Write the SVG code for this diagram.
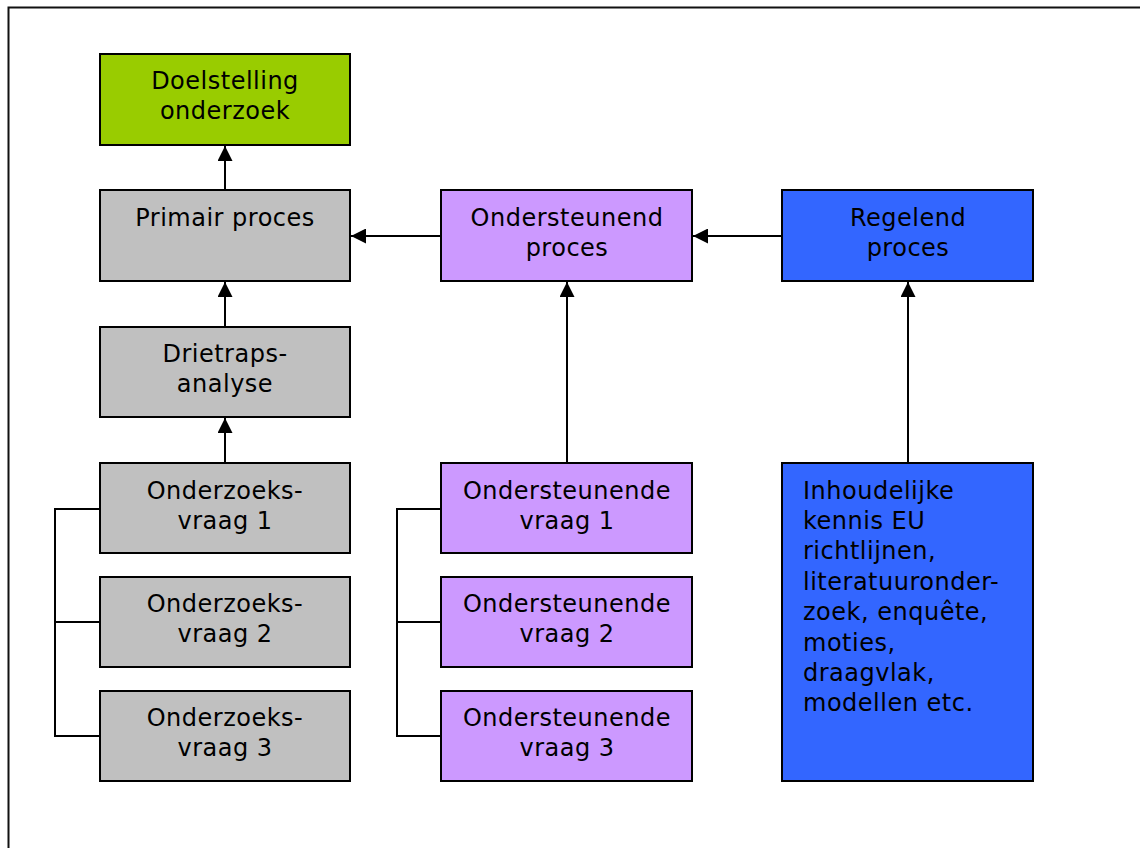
<svg xmlns="http://www.w3.org/2000/svg" width="1140" height="848" viewBox="0 0 1140 848">
  <style>
    .box { stroke: #000; stroke-width: 2; }
    .green { fill: #99CC00; }
    .gray { fill: #C0C0C0; }
    .purple { fill: #CC99FF; }
    .blue { fill: #3366FF; }
    text { font-family: "DejaVu Sans", Verdana, sans-serif; font-size: 24px; letter-spacing: 0.5px; fill: #000; }
    .c { text-anchor: middle; }
    .link { stroke: #000; stroke-width: 2; fill: none; }
    .arrow { stroke: #000; stroke-width: 2; fill: none; marker-end: url(#head); }
  </style>
  <defs>
    <marker id="head" viewBox="0 0 10 10" refX="10" refY="5" markerWidth="7.5" markerHeight="7.5" markerUnits="strokeWidth" orient="auto">
      <path d="M0,0 L10,5 L0,10 Z" fill="#000"/>
    </marker>
  </defs>
  <rect width="1140" height="848" fill="#fff"/>
  <!-- outer frame -->
  <rect x="8.5" y="7.5" width="1200" height="900" fill="none" stroke="#111" stroke-width="2"/>

  <g id="connectors">
    <line class="arrow" x1="225" y1="190" x2="225" y2="146"/>
    <line class="arrow" x1="225" y1="327" x2="225" y2="282"/>
    <line class="arrow" x1="225" y1="463" x2="225" y2="418"/>
    <line class="arrow" x1="441" y1="236" x2="351" y2="236"/>
    <line class="arrow" x1="782" y1="236" x2="693" y2="236"/>
    <line class="arrow" x1="567" y1="463" x2="567" y2="282"/>
    <line class="arrow" x1="908" y1="463" x2="908" y2="282"/>
    <path class="link" d="M100,509 H55 V736 H100 M55,622 H100"/>
    <path class="link" d="M441,509 H397 V736 H441 M397,622 H441"/>
  </g>

  <g id="doelstelling">
    <rect class="box green" x="100" y="54" width="250" height="91"/>
    <text class="c" x="225" y="89">Doelstelling</text>
    <text class="c" x="225" y="119">onderzoek</text>
  </g>
  <g id="primair">
    <rect class="box gray" x="100" y="190" width="250" height="91"/>
    <text class="c" x="225" y="226">Primair proces</text>
  </g>
  <g id="drietraps">
    <rect class="box gray" x="100" y="327" width="250" height="90"/>
    <text class="c" x="225" y="362">Drietraps-</text>
    <text class="c" x="225" y="392">analyse</text>
  </g>
  <g id="onderzoeksvraag1">
    <rect class="box gray" x="100" y="463" width="250" height="90"/>
    <text class="c" x="225" y="499">Onderzoeks-</text>
    <text class="c" x="225" y="529">vraag 1</text>
  </g>
  <g id="onderzoeksvraag2">
    <rect class="box gray" x="100" y="577" width="250" height="90"/>
    <text class="c" x="225" y="612">Onderzoeks-</text>
    <text class="c" x="225" y="642">vraag 2</text>
  </g>
  <g id="onderzoeksvraag3">
    <rect class="box gray" x="100" y="691" width="250" height="90"/>
    <text class="c" x="225" y="726">Onderzoeks-</text>
    <text class="c" x="225" y="756">vraag 3</text>
  </g>

  <g id="ondersteunend">
    <rect class="box purple" x="441" y="190" width="251" height="91"/>
    <text class="c" x="567" y="226">Ondersteunend</text>
    <text class="c" x="567" y="256">proces</text>
  </g>
  <g id="ondersteunendevraag1">
    <rect class="box purple" x="441" y="463" width="251" height="90"/>
    <text class="c" x="567" y="499">Ondersteunende</text>
    <text class="c" x="567" y="529">vraag 1</text>
  </g>
  <g id="ondersteunendevraag2">
    <rect class="box purple" x="441" y="577" width="251" height="90"/>
    <text class="c" x="567" y="612">Ondersteunende</text>
    <text class="c" x="567" y="642">vraag 2</text>
  </g>
  <g id="ondersteunendevraag3">
    <rect class="box purple" x="441" y="691" width="251" height="90"/>
    <text class="c" x="567" y="726">Ondersteunende</text>
    <text class="c" x="567" y="756">vraag 3</text>
  </g>

  <g id="regelend">
    <rect class="box blue" x="782" y="190" width="251" height="91"/>
    <text class="c" x="908" y="226">Regelend</text>
    <text class="c" x="908" y="256">proces</text>
  </g>
  <g id="inhoudelijk">
    <rect class="box blue" x="782" y="463" width="251" height="318"/>
    <text x="803" y="499">Inhoudelijke</text>
    <text x="803" y="529">kennis EU</text>
    <text x="803" y="559">richtlijnen,</text>
    <text x="803" y="590">literatuuronder-</text>
    <text x="803" y="620">zoek, enquête,</text>
    <text x="803" y="651">moties,</text>
    <text x="803" y="681">draagvlak,</text>
    <text x="803" y="711">modellen etc.</text>
  </g>
</svg>
